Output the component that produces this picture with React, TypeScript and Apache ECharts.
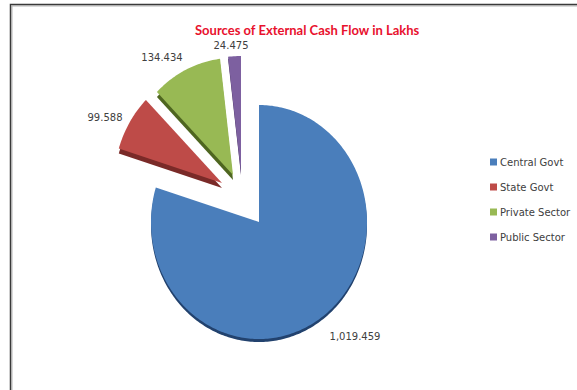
import React, { useEffect, useRef } from "react";
import * as echarts from "echarts";

const categories = ["Central Govt", "State Govt", "Private Sector", "Public Sector"];
const values = [1019.459, 99.588, 134.434, 24.475];
const valueLabels = ["1,019.459", "99.588", "134.434", "24.475"];
const faceColors = ["#4a7ebb", "#be4b48", "#98b954", "#7d60a0"];
const sideColors = ["#22426e", "#7a2a28", "#4e6620", "#46305f"];

// Pie geometry: the drawing is squeezed horizontally, so slices are elliptical.
const centre = [259, 222];
const radiusX = 108;
const radiusY = 117;
const explode = [[0, 0], [-37, -39], [-26, -47], [-18, -49]];
const depth = [3, 5, 5, 2];
const labelAnchors = [[355, 336], [105, 117], [162, 57], [231, 45]];

const total = values.reduce((a, b) => a + b, 0);

function slicePoints(startDeg: number, endDeg: number, cx: number, cy: number) {
  const pts: number[][] = [[cx, cy]];
  const steps = Math.max(4, Math.ceil(endDeg - startDeg));
  for (let i = 0; i <= steps; i++) {
    const a = ((startDeg + ((endDeg - startDeg) * i) / steps) * Math.PI) / 180;
    pts.push([cx + radiusX * Math.sin(a), cy - radiusY * Math.cos(a)]);
  }
  return pts;
}

export default function App() {
  const ref = useRef<HTMLDivElement>(null);
  useEffect(() => {
    const chart = echarts.init(ref.current!, undefined, { renderer: "svg" });
    let running = 0;
    const series = categories.map((name, i) => {
      const start = (running / total) * 360;
      running += values[i];
      const end = (running / total) * 360;
      return {
        type: "custom",
        name,
        coordinateSystem: "none",
        itemStyle: { color: faceColors[i] },
        data: [values[i]],
        renderItem: () => {
          const cx = centre[0] + explode[i][0];
          const cy = centre[1] + explode[i][1];
          return {
            type: "group",
            children: [
              {
                type: "polygon",
                shape: { points: slicePoints(start, end, cx, cy + depth[i]) },
                style: { fill: sideColors[i] },
              },
              {
                type: "polygon",
                shape: { points: slicePoints(start, end, cx, cy) },
                style: { fill: faceColors[i] },
              },
              {
                type: "text",
                style: {
                  x: labelAnchors[i][0],
                  y: labelAnchors[i][1],
                  text: valueLabels[i],
                  fill: "#404040",
                  font: "10px 'DejaVu Sans', sans-serif",
                  align: "center",
                  verticalAlign: "middle",
                },
              },
            ],
          };
        },
      };
    });
    chart.setOption({
      animation: false,
      backgroundColor: "#ffffff",
      title: {
        text: "Sources of External Cash Flow in Lakhs",
        left: 190,
        top: 18,
        textStyle: {
          color: "#e8112d",
          fontSize: 13,
          fontWeight: "bold",
          fontFamily: "Lato, sans-serif",
        },
      },
      legend: {
        data: categories,
        orient: "vertical",
        left: 485,
        top: 152,
        itemWidth: 7,
        itemHeight: 7,
        itemGap: 15,
        icon: "rect",
        textStyle: {
          color: "#404040",
          fontSize: 10,
          fontFamily: "'DejaVu Sans', sans-serif",
          padding: [0, 0, 0, -2],
        },
      },
      graphic: [
        {
          type: "polyline",
          shape: { points: [[12, 390], [12, 6], [577, 6]] },
          style: { stroke: "#b5b5b5", lineWidth: 1, fill: "none" },
          silent: true,
        },
        {
          type: "polyline",
          shape: { points: [[10.5, 390], [10.5, 4.5], [577, 4.5]] },
          style: { stroke: "#3a3a3a", lineWidth: 1.5, fill: "none" },
          silent: true,
        },
      ],
      series,
    });
    return () => chart.dispose();
  }, []);
  return <div ref={ref} style={{ position: "fixed", left: 0, top: 0, width: 577, height: 390 }} />;
}
